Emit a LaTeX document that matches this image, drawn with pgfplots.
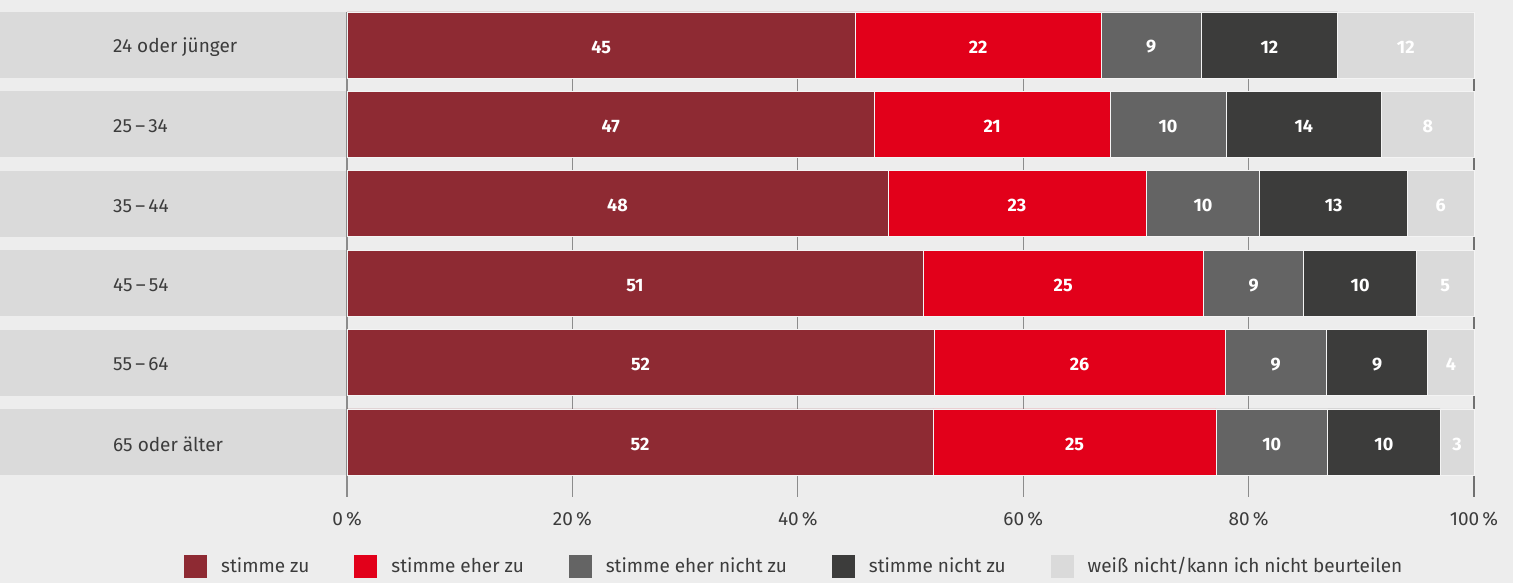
\documentclass[border=0pt]{standalone}
\usepackage{pgfplots}
\pgfplotsset{compat=1.18}
\usepackage{fontspec}
\setmainfont{Fira Sans}
\definecolor{bg}{HTML}{EDEDED}
\definecolor{band}{HTML}{DADADA}
\definecolor{cA}{HTML}{8E2A33}
\definecolor{cB}{HTML}{E2001A}
\definecolor{cC}{HTML}{646464}
\definecolor{cD}{HTML}{3C3C3B}
\definecolor{cE}{HTML}{DADADA}
\definecolor{txt}{HTML}{3C3C3C}
\definecolor{gridc}{HTML}{8C8C8C}
\definecolor{edge}{HTML}{F4F4F4}
\begin{document}
\begin{tikzpicture}
\fill[bg] (0,0) rectangle (1513pt,583pt);
\path[use as bounding box] (0,0) rectangle (1513pt,583pt);
\fill[band] (0pt,505.0pt) rectangle (347pt,571.0pt);
\fill[band] (0pt,425.6pt) rectangle (347pt,491.6pt);
\fill[band] (0pt,346.2pt) rectangle (347pt,412.2pt);
\fill[band] (0pt,266.8pt) rectangle (347pt,332.8pt);
\fill[band] (0pt,187.4pt) rectangle (347pt,253.4pt);
\fill[band] (0pt,108.0pt) rectangle (347pt,174.0pt);
\begin{axis}[
  at={(347pt,86pt)}, anchor=south west,
  scale only axis, width=1127pt, height=485pt,
  xmin=0, xmax=100, ymin=-0.6927, ymax=5.4156,
  xbar stacked, bar width=66pt,
  clip=false,
  axis line style={draw=none},
  major tick length=0pt,
  xtick={0,20,...,100},
  xticklabels={0\,\%,20\,\%,40\,\%,60\,\%,80\,\%,100\,\%},
  ytick={0,...,5},
  yticklabels={65 oder älter,55\,–\,64,45\,–\,54,35\,–\,44,25\,–\,34,24 oder jünger},
  xmajorgrids, major grid style={gridc, line width=1pt},
  tick label style={font=\fontsize{19}{19}\selectfont, text=txt},
  yticklabel style={anchor=west, inner sep=0pt, xshift=-234pt, yshift=-2pt},
  xticklabel style={yshift=-11pt},
  point meta=explicit symbolic,
  nodes near coords,
  every node near coord/.append style={anchor=center, yshift=-2pt, font=\bfseries\fontsize{18}{18}\selectfont, text=white},
  legend style={at={(-0.1473,-0.1423)}, anchor=west, draw=none, fill=none,
    font=\fontsize{19}{19}\selectfont, text=txt, nodes={inner sep=0pt},
    /tikz/every even column/.append style={column sep=45pt},
    /tikz/every odd column/.append style={column sep=14pt}},
  legend columns=-1,
  legend image code/.code={\fill[#1,draw=none] (0pt,-11.5pt) rectangle (23pt,11.5pt);},
  every axis plot/.append style={draw=edge, line width=0.8pt},
]
\addplot[fill=cA] coordinates {(45.1,5) [45] (46.8,4) [47] (48.0,3) [48] (51.1,2) [51] (52.1,1) [52] (52.0,0) [52]};
\addplot[fill=cB] coordinates {(21.8,5) [22] (20.9,4) [21] (22.9,3) [23] (24.9,2) [25] (25.8,1) [26] (25.1,0) [25]};
\addplot[fill=cC] coordinates {(8.9,5) [9] (10.3,4) [10] (10.1,3) [10] (8.9,2) [9] (9.0,1) [9] (9.9,0) [10]};
\addplot[fill=cD] coordinates {(12.1,5) [12] (13.8,4) [14] (13.1,3) [13] (10.0,2) [10] (9.0,1) [9] (10.0,0) [10]};
\addplot[fill=cE] coordinates {(12.1,5) [12] (8.2,4) [8] (5.9,3) [6] (5.1,2) [5] (4.1,1) [4] (3.0,0) [3]};
\legend{stimme zu, stimme eher zu, stimme eher nicht zu, stimme nicht zu, weiß nicht/kann ich nicht beurteilen}
\draw[gridc, line width=1.2pt] (rel axis cs:0,0) -- (rel axis cs:0,1);
\draw[gridc!80!black, line width=1.2pt] (rel axis cs:1,0) -- (rel axis cs:1,1);
\end{axis}
\end{tikzpicture}
\end{document}
